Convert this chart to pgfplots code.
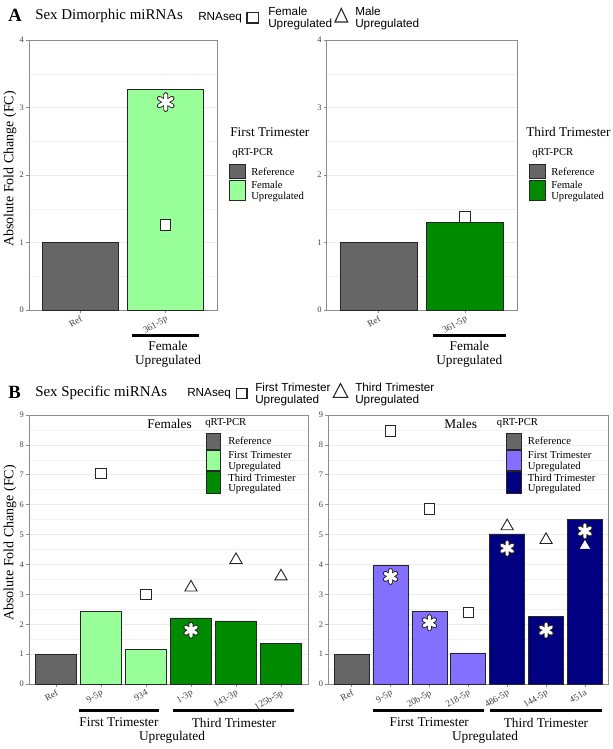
\documentclass[border=0pt]{standalone}
\usepackage{pgfplots}
\pgfplotsset{compat=1.18}
\usepackage{fontspec}
\setmainfont{Liberation Serif}
\setsansfont{Liberation Sans}
\definecolor{refgray}{HTML}{666666}
\definecolor{lgreen}{HTML}{99FF99}
\definecolor{dgreen}{HTML}{008A00}
\definecolor{lpurple}{HTML}{8470FF}
\definecolor{navyb}{HTML}{000080}
\definecolor{framec}{HTML}{8C8C8C}
\definecolor{gridc}{HTML}{EBEBEB}
\pgfplotsset{
  panel/.style={
    scale only axis, anchor=south west, enlargelimits=false,
    axis line style={framec, line width=0.6pt},
    tick style={framec, line width=0.5pt},
    major tick length=2.2pt, minor tick length=0pt, tick align=outside,
    xtick pos=bottom, ytick pos=left,
    ymajorgrids, yminorgrids,
    major grid style={gridc, line width=0.5pt},
    minor grid style={gridc!70, line width=0.35pt},
    tick label style={text=black!75},
    yticklabel style={font=\fontsize{6.3}{7}\selectfont, inner sep=1.5pt},
    /pgf/number format/assume math mode=true,
    xticklabel style={font=\fontsize{7}{8}\selectfont, rotate=30, anchor=north east, inner sep=1pt},
    clip=false,
  },
  barA/.style={ybar, bar width=0.89, bar shift=0pt, draw=black!85, line width=0.5pt},
  barB/.style={ybar, bar width=0.9, bar shift=0pt, draw=black!85, line width=0.5pt},
  sqm/.style={only marks, mark=square*, mark size=3.9pt, mark options={fill=white, draw=black!85, line width=0.8pt}},
  trm/.style={only marks, mark=triangle, mark size=5.3pt, mark options={draw=black!85, line width=0.7pt}},
  astout/.style={only marks, mark=asterisk, mark size=#1, mark options={draw=black!85, line width=3.6pt, line cap=round}},
  astin/.style={only marks, mark=asterisk, mark size=#1, mark options={draw=white, line width=2.3pt, line cap=round}},
}
\begin{document}
\begin{tikzpicture}
\path[use as bounding box] (0,0) rectangle (459.75pt,561.75pt);
% ---------------- Panel A, first trimester
\begin{axis}[panel, at={(21.75pt,329.25pt)}, width=141pt, height=202.5pt,
  xmin=-0.6, xmax=1.6, ymin=0, ymax=4, ytick={0,1,2,3,4},
  minor ytick={0.5,1.5,2.5,3.5},
  xtick={0,1}, xticklabels={Ref,361-5p}]
\addplot[barA, fill=refgray] coordinates {(0,1)};
\addplot[barA, fill=lgreen] coordinates {(1,3.27)};
\addplot[sqm] coordinates {(1,1.26)};
\addplot[astout=5.6pt] coordinates {(1,3.08)};
\addplot[astin=5.6pt] coordinates {(1,3.08)};
\end{axis}
% ---------------- Panel A, third trimester
\begin{axis}[panel, at={(245pt,329.25pt)}, width=142.7pt, height=202.5pt,
  xmin=-0.6, xmax=1.6, ymin=0, ymax=4, ytick={0,1,2,3,4},
  minor ytick={0.5,1.5,2.5,3.5},
  xtick={0,1}, xticklabels={Ref,361-5p}]
\addplot[barA, fill=refgray] coordinates {(0,1)};
\addplot[barA, fill=dgreen] coordinates {(1,1.30)};
\addplot[sqm] coordinates {(1,1.38)};
\end{axis}
% ---------------- Panel B, females
\begin{axis}[panel, at={(21.75pt,48.75pt)}, width=209.25pt, height=201.75pt,
  xmin=-0.6, xmax=5.6, ymin=0, ymax=9, ytick={0,1,...,9},
  minor ytick={0.5,1.5,...,8.5},
  xtick={0,1,2,3,4,5}, xticklabels={Ref,9-5p,934,1-3p,143-3p,125b-5p}]
\addplot[barB, fill=refgray] coordinates {(0,1)};
\addplot[barB, fill=lgreen] coordinates {(1,2.44) (2,1.16)};
\addplot[barB, fill=dgreen] coordinates {(3,2.21) (4,2.11) (5,1.36)};
\addplot[sqm] coordinates {(1,7.05) (2,3.0)};
\addplot[trm] coordinates {(3,3.23) (4,4.15) (5,3.6)};
\addplot[astout=4.6pt] coordinates {(3,1.8)};
\addplot[astin=4.6pt] coordinates {(3,1.8)};
\end{axis}
% ---------------- Panel B, males
\begin{axis}[panel, at={(246.2pt,48.75pt)}, width=210pt, height=201.75pt,
  xmin=-0.6, xmax=6.6, ymin=0, ymax=9, ytick={0,1,...,9},
  minor ytick={0.5,1.5,...,8.5},
  xtick={0,1,2,3,4,5,6}, xticklabels={Ref,9-5p,20b-5p,218-5p,486-5p,144-5p,451a}]
\addplot[barB, fill=refgray] coordinates {(0,1)};
\addplot[barB, fill=lpurple] coordinates {(1,3.97) (2,2.44) (3,1.04)};
\addplot[barB, fill=navyb] coordinates {(4,5.02) (5,2.25) (6,5.52)};
\addplot[sqm] coordinates {(1,8.47) (2,5.86) (3,2.4)};
\addplot[trm] coordinates {(4,5.28) (5,4.82)};
\addplot[only marks, mark=triangle*, mark size=4pt, mark options={fill=white, draw=white}] coordinates {(6,4.62)};
\addplot[astout=4.6pt] coordinates {(1,3.6) (2,2.05) (4,4.54) (5,1.8) (6,5.12)};
\addplot[astin=4.6pt] coordinates {(1,3.6) (2,2.05) (4,4.54) (5,1.8) (6,5.12)};
\end{axis}
% ---------------- annotations in pixel coordinates
\begin{scope}[x=0.75pt, y=-0.75pt, yshift=561.75pt, every node/.style={inner sep=0pt}]
% titles
\node[anchor=west, font=\fontsize{14}{16}\selectfont\bfseries] at (8,15) {A};
\node[anchor=west, font=\fontsize{11.2}{13}\selectfont] at (35,16) {Sex Dimorphic miRNAs};
\node[anchor=west, font=\fontsize{14}{16}\selectfont\bfseries] at (8,392) {B};
\node[anchor=west, font=\fontsize{11.2}{13}\selectfont] at (35,393) {Sex Specific miRNAs};
% y labels
\node[rotate=90, font=\fontsize{10.5}{12}\selectfont] at (10,169) {Absolute Fold Change (FC)};
\node[rotate=90, font=\fontsize{10.5}{12}\selectfont] at (10,543) {Absolute Fold Change (FC)};
% RNAseq legend A
\begin{scope}[font=\sffamily\fontsize{8.8}{10}\selectfont]
\node[anchor=west] at (198,18) {RNAseq};
\draw[black!85, line width=0.8pt] (247,12.7) rectangle (258.5,23);
\node[anchor=west] at (268,11) {Female};
\node[anchor=west] at (268,24) {Upregulated};
\draw[black!85, line width=0.8pt] (335,22) -- (347.7,22) -- (341.3,8.5) -- cycle;
\node[anchor=west] at (355,11) {Male};
\node[anchor=west] at (355,24) {Upregulated};
% RNAseq legend B
\node[anchor=west] at (187,394) {RNAseq};
\draw[black!85, line width=0.8pt] (236.7,388.3) rectangle (247,398.5);
\node[anchor=west] at (255,387) {First Trimester};
\node[anchor=west] at (255,400) {Upregulated};
\draw[black!85, line width=0.8pt] (333.3,397.3) -- (347.7,397.3) -- (340.5,383.5) -- cycle;
\node[anchor=west] at (355,387) {Third Trimester};
\node[anchor=west] at (355,400) {Upregulated};
\end{scope}
% qRT-PCR legends A
\begin{scope}[font=\fontsize{8}{9}\selectfont]
\node[anchor=west, font=\fontsize{10}{12}\selectfont] at (230,132) {First Trimester};
\node[anchor=west] at (232,153) {qRT-PCR};
\draw[black!85, line width=0.6pt, fill=refgray] (229.3,164) rectangle (245,178.5);
\draw[black!85, line width=0.6pt, fill=lgreen] (229.3,180) rectangle (245,200.7);
\node[anchor=west] at (251,171.5) {Reference};
\node[anchor=west] at (251,184.5) {Female};
\node[anchor=west] at (251,196.5) {Upregulated};
\node[anchor=west, font=\fontsize{10}{12}\selectfont] at (526,132) {Third Trimester};
\node[anchor=west] at (532,153) {qRT-PCR};
\draw[black!85, line width=0.6pt, fill=refgray] (529.3,164) rectangle (545,178.5);
\draw[black!85, line width=0.6pt, fill=dgreen] (529.3,180) rectangle (545,200.7);
\node[anchor=west] at (551,171.5) {Reference};
\node[anchor=west] at (551,184.5) {Female};
\node[anchor=west] at (551,196.5) {Upregulated};
% qRT-PCR legends B
\node[anchor=east, font=\fontsize{10}{12}\selectfont] at (192,423.5) {Females};
\node[anchor=west] at (205,423) {qRT-PCR};
\draw[black!85, line width=0.6pt, fill=refgray] (206.7,433.3) rectangle (220.7,449);
\draw[black!85, line width=0.6pt, fill=lgreen] (206.7,450) rectangle (220.7,470.5);
\draw[black!85, line width=0.6pt, fill=dgreen] (206.7,471.7) rectangle (220.7,493.3);
\node[anchor=west] at (228,441) {Reference};
\node[anchor=west] at (228,455) {First Trimester};
\node[anchor=west] at (228,467) {Upregulated};
\node[anchor=west] at (228,477.5) {Third Trimester};
\node[anchor=west] at (228,489) {Upregulated};
\node[font=\fontsize{10}{12}\selectfont] at (460.7,423.5) {Males};
\node[anchor=west] at (496.7,423) {qRT-PCR};
\draw[black!85, line width=0.6pt, fill=refgray] (506,433.3) rectangle (521,449);
\draw[black!85, line width=0.6pt, fill=lpurple] (506,450) rectangle (521,470.5);
\draw[black!85, line width=0.6pt, fill=navyb] (506,471.7) rectangle (521,493.3);
\node[anchor=west] at (527.7,441) {Reference};
\node[anchor=west] at (527.7,455) {First Trimester};
\node[anchor=west] at (527.7,467) {Upregulated};
\node[anchor=west] at (527.7,477.5) {Third Trimester};
\node[anchor=west] at (527.7,489) {Upregulated};
\end{scope}
% group labels
\begin{scope}[font=\fontsize{10}{12}\selectfont]
\draw[black, line width=2.3pt] (132,335.7) -- (199,335.7);
\node at (168,346) {Female};
\node at (168,361.5) {Upregulated};
\draw[black, line width=2.3pt] (432.7,335.7) -- (506,335.7);
\node at (469.3,346) {Female};
\node at (469.3,361.5) {Upregulated};
\draw[black, line width=2.3pt] (79,710.7) -- (159,710.7);
\draw[black, line width=2.3pt] (172.7,710.7) -- (294,710.7);
\node at (119,722.5) {First Trimester};
\node at (234,722.5) {Third Trimester};
\node at (172,737.5) {Upregulated};
\draw[black, line width=2.3pt] (373.3,710.7) -- (484.3,710.7);
\draw[black, line width=2.3pt] (490,710.7) -- (602.3,710.7);
\node at (429.3,722.5) {First Trimester};
\node at (546,722.5) {Third Trimester};
\node at (485,737.5) {Upregulated};
\end{scope}
\end{scope}
\end{tikzpicture}
\end{document}
